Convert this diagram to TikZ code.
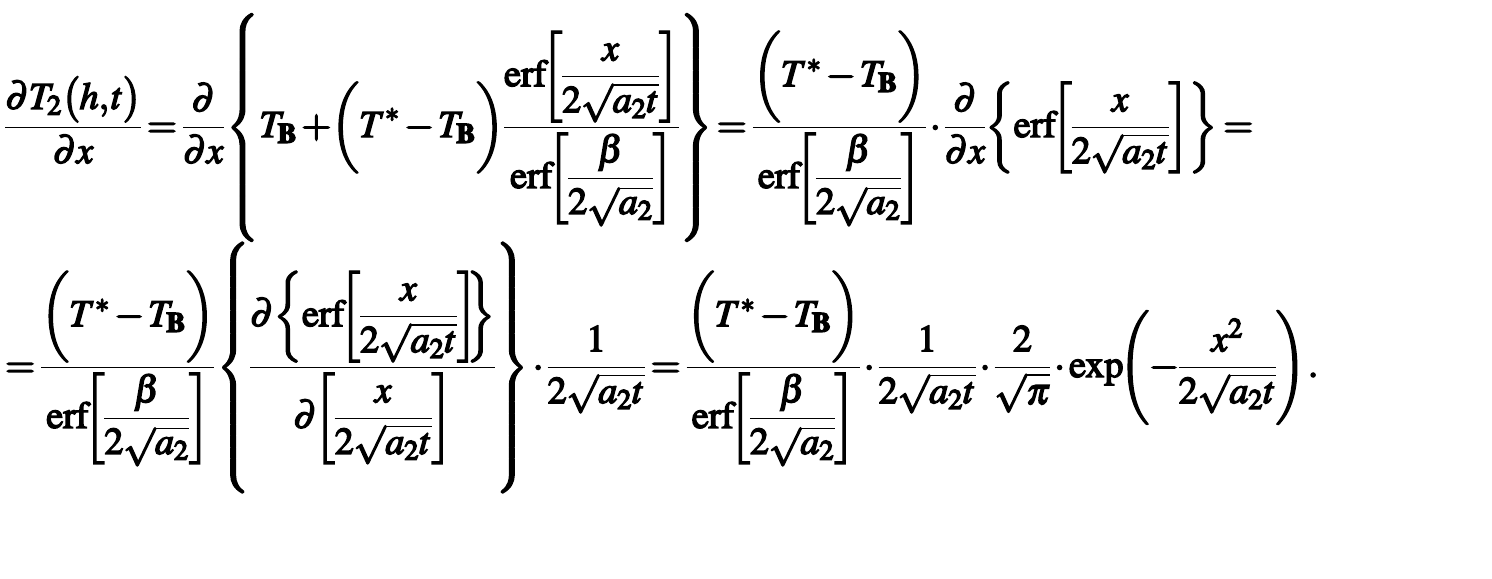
\documentclass[tikz,border=0pt]{standalone}
\usepackage{amsmath}
\usepackage{mathptmx}
\tikzset{
	eqline/.style = {
		inner sep=0pt,
		anchor=base west,
		font=\fontsize{19}{23}\selectfont
	}
}
\newcommand{\eqspacing}{\thinmuskip=1mu\relax\medmuskip=2mu\relax\thickmuskip=3mu\relax\nulldelimiterspace=0pt\relax}
\newcommand{\heavyon}{\special{pdf:literal direct 2 Tr 0.7 w}}
\newcommand{\heavyoff}{\special{pdf:literal direct 0 Tr}}
\newcommand{\TB}{T_{\mathbf{B}}}
\newcommand{\erfb}{\mathrm{erf}\mkern-3mu}
\newcommand{\sqat}{2\sqrt{a_2t}}
\newcommand{\TdiffB}{\biggl(T^{*}-\TB\biggr)}
\newcommand{\erfbeta}{\erfb\left[\dfrac{\beta}{2\sqrt{a_2}}\right]}

\begin{document}
\begin{tikzpicture}[x=0.5pt,y=-0.5pt]
\useasboundingbox (0,0) rectangle (1492,578);
\node [eqline] (line1) at (5,137) {\heavyon$\eqspacing\displaystyle
\frac{\partial T_2\bigl(h,t\bigr)}{\partial x}=\frac{\partial}{\partial x}\left\{\rule[-52pt]{0pt}{113pt}\TB+\mkern-2mu\TdiffB\frac{\erfb\left[\dfrac{x}{\sqat}\right]}{\erfbeta}\right\}\mkern-1mu=\frac{\TdiffB}{\erfbeta}\cdot\frac{\partial}{\partial x}\mkern-1mu\left\{\erfb\left[\frac{x}{\sqat}\right]\right\}=$\heavyoff};
\node [eqline] (line2) at (5,377) {\heavyon$\eqspacing\displaystyle
=\frac{\TdiffB}{\erfbeta}\left\{\rule[-56pt]{0pt}{121pt}\frac{\partial\mkern-1mu\left\{\erfb\left[\dfrac{x}{\sqat}\right]\mkern-5mu\right\}}{\partial\mkern-2mu\left[\dfrac{x}{\sqat}\right]}\right\}\cdot\frac{1}{\sqat}=\frac{\TdiffB}{\erfbeta}\cdot\frac{1}{\sqat}\cdot\frac{2}{\sqrt{\pi}}\cdot\mathrm{exp}\mkern-3mu\left(-\frac{x^{2}}{\sqat}\rule[-25pt]{0pt}{59pt}\right).$\heavyoff};
\end{tikzpicture}
\end{document}
